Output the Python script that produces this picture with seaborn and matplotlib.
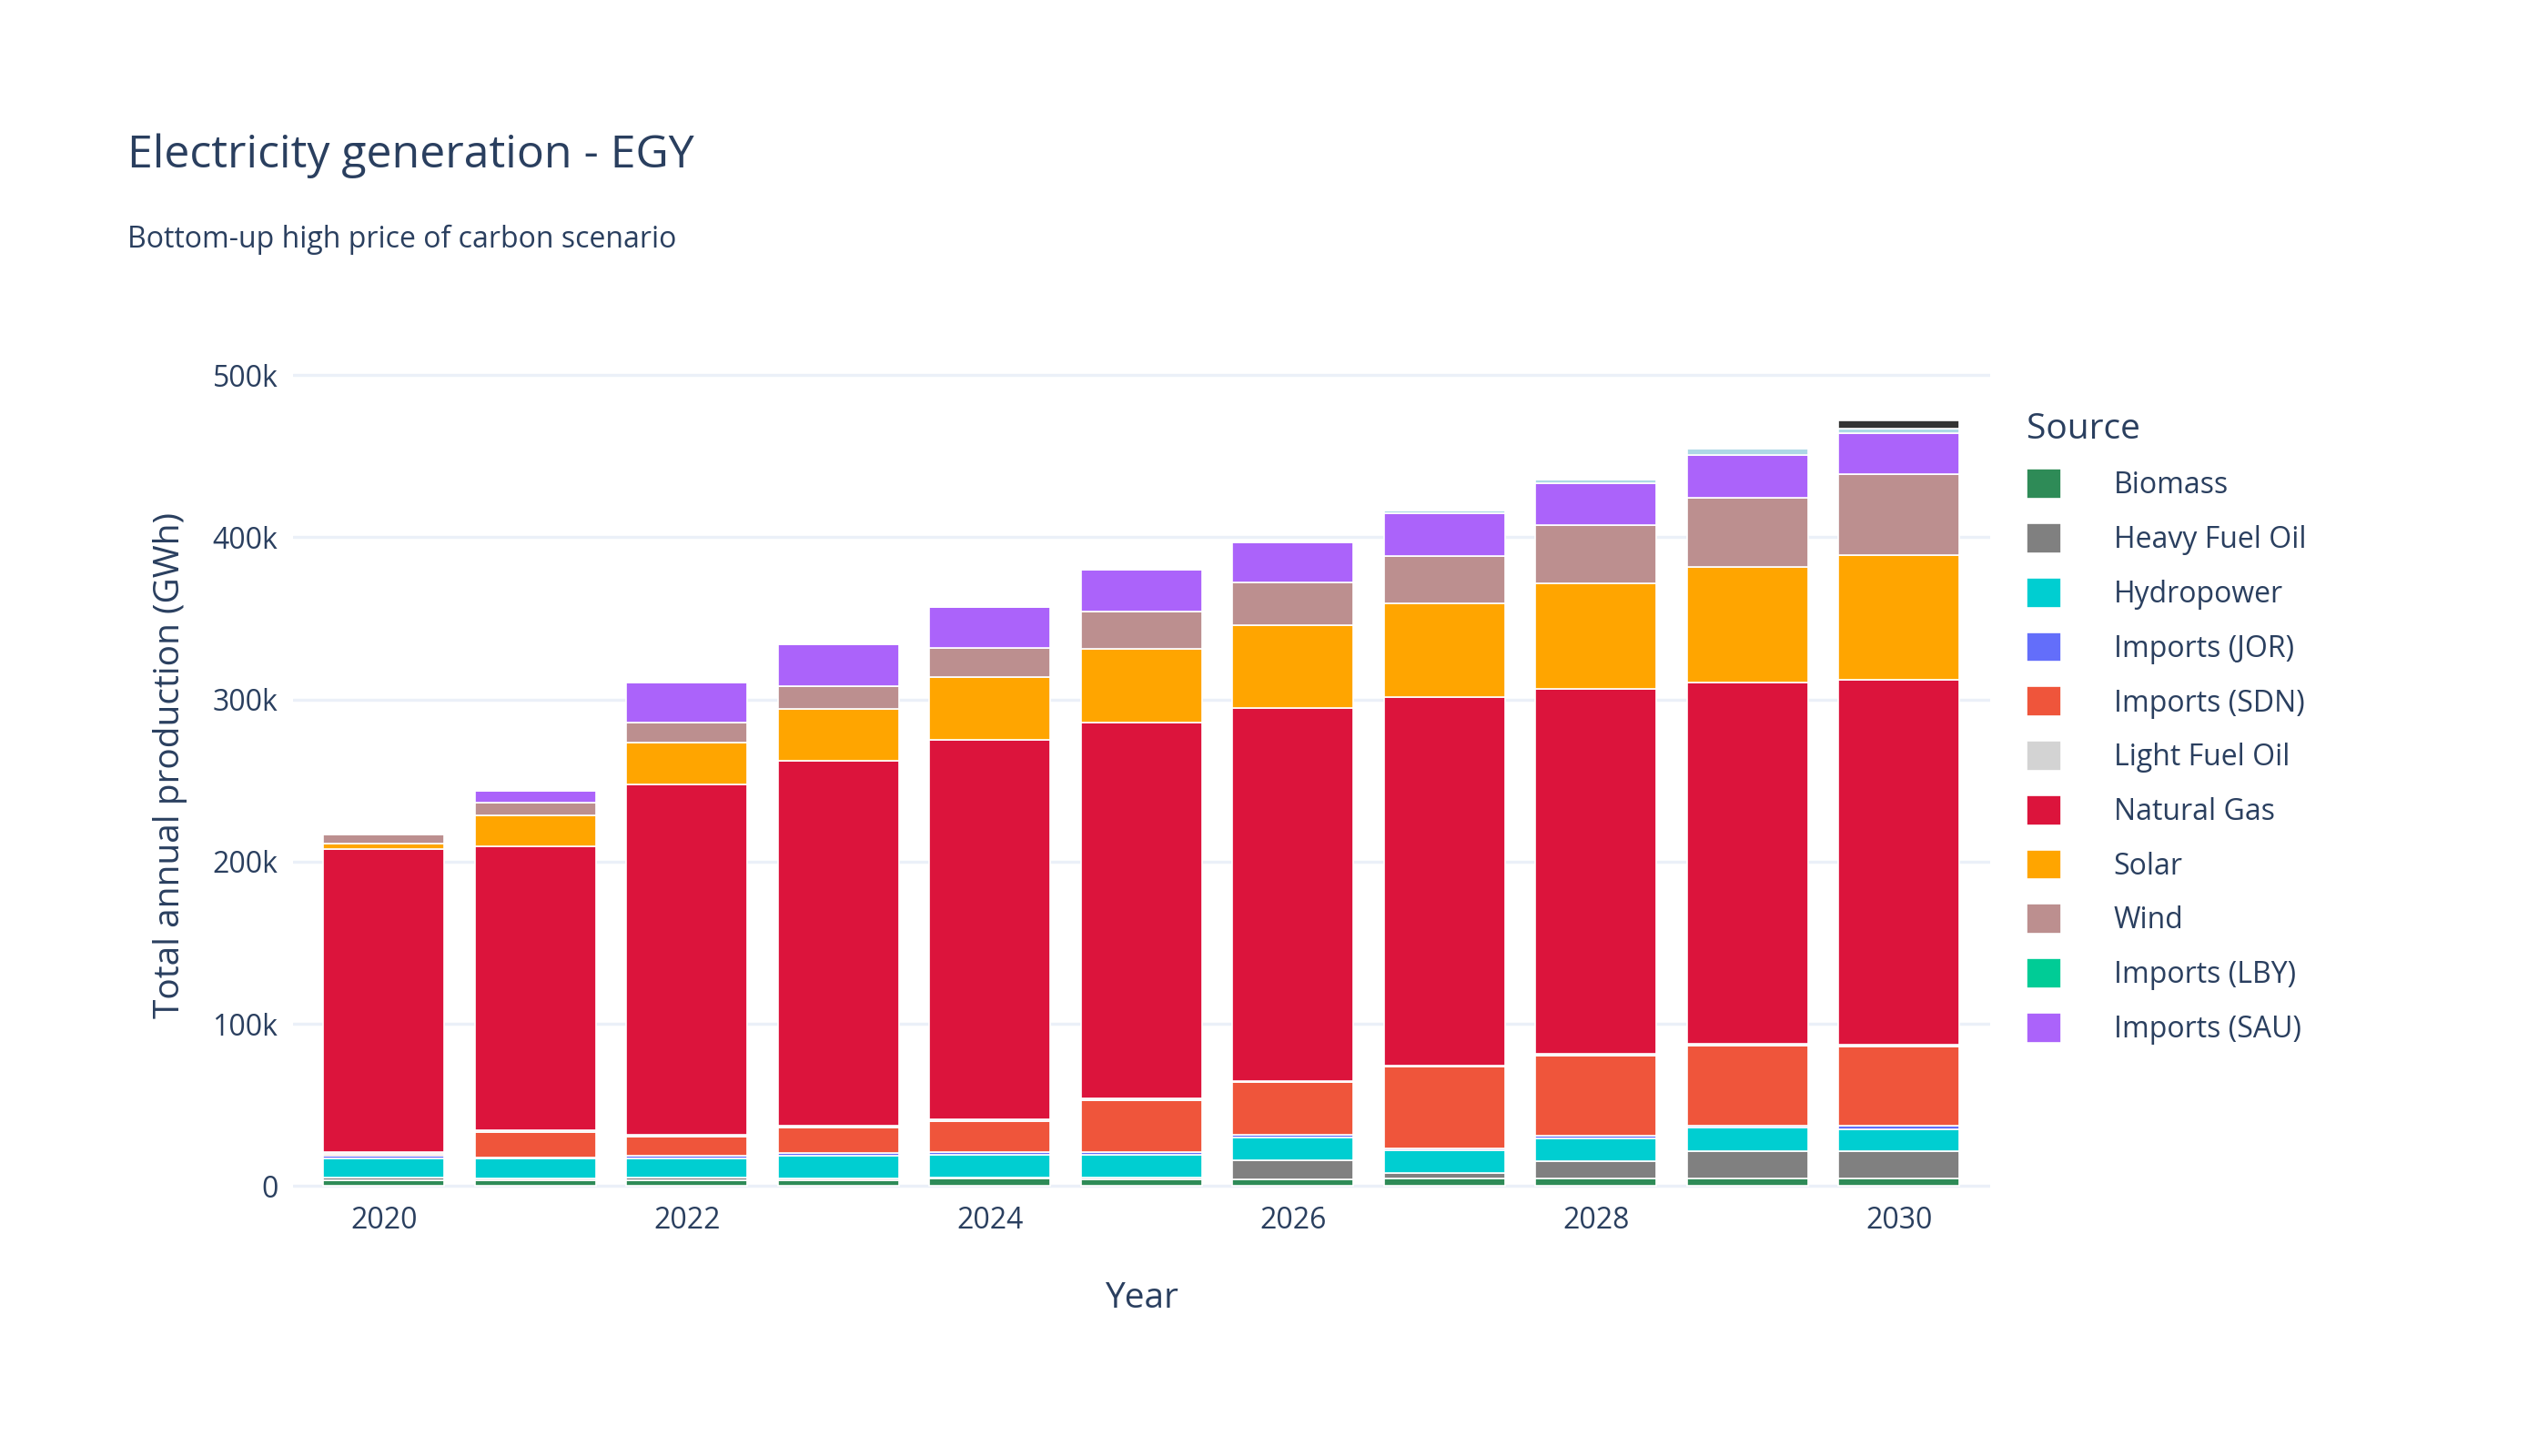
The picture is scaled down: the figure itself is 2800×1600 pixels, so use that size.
import matplotlib
matplotlib.use("Agg")
import matplotlib.pyplot as plt
import seaborn as sns
import numpy as np
from matplotlib.transforms import Bbox, TransformedBbox

years = [2020, 2021, 2022, 2023, 2024, 2025, 2026, 2027, 2028, 2029, 2030]
biomass = [3.5, 3.5, 3.5, 3.5, 4.5, 4, 4, 4.5, 4.5, 4.5, 4.5]
heavy_fuel_oil = [2, 1.5, 2, 1.5, 1, 1.5, 12, 3.5, 11, 17, 17]
hydropower = [11.5, 12, 11.5, 14, 14, 14, 14, 14, 14, 14.5, 13.5]
imports_jor = [1.5, 0.5, 1.5, 1.5, 1.5, 1.5, 1.5, 1.5, 1.5, 1.5, 2]
imports_sdn = [1.5, 16, 12, 15.5, 19, 32, 32.5, 50, 49.5, 49, 49]
light_fuel_oil = [1, 1, 1, 1, 1, 1, 1, 1, 1, 1, 1]
natural_gas = [187, 175, 216, 225, 234, 232, 230, 227, 225, 223, 225]
solar = [3, 19, 26, 32, 39, 45, 51, 58, 65, 71, 77]
wind = [6, 8, 12, 14, 18, 23, 26, 29, 36, 43, 50]
imports_lby = [0, 0, 0, 0, 0, 0, 0, 0, 0, 0, 0]
imports_sau = [0, 7, 25, 26, 25, 26, 25, 26, 26, 26, 25]
other_light = [0, 0, 0, 0, 0, 0, 0, 2, 2, 4, 3]
other_dark = [0, 0, 0, 0, 0, 0, 0, 0, 0, 0, 5]

sources = ["Biomass", "Heavy Fuel Oil", "Hydropower", "Imports (JOR)", "Imports (SDN)",
           "Light Fuel Oil", "Natural Gas", "Solar", "Wind", "Imports (LBY)", "Imports (SAU)",
           "_other1", "_other2"]
values = [biomass, heavy_fuel_oil, hydropower, imports_jor, imports_sdn, light_fuel_oil,
          natural_gas, solar, wind, imports_lby, imports_sau, other_light, other_dark]
colors = ["#2E8B57", "#808080", "#00CED1", "#636EFA", "#EF553B", "#D3D3D3", "#DC143C",
          "#FFA500", "#BC8F8F", "#00CC96", "#AB63FA", "#ADD8E6", "#333333"]

sns.set_theme(style="white")
plt.rcParams['font.family'] = ['Open Sans', 'DejaVu Sans']
txt = "#2A3F5F"

fig = plt.figure(figsize=(14, 8), dpi=200)
ax = fig.add_axes([0.115, 0.182, 0.666, 0.585])
bottom = np.zeros(len(years))
for name, vals, c in zip(sources, values, colors):
    v = np.array(vals) * 1000
    ax.bar(years, v, bottom=bottom, width=0.8, color=c, edgecolor="white", linewidth=0.6,
           label=name)
    bottom += v

ax.set_ylim(-3000, 522000)
ax.set_xlim(2019.4, 2030.6)
ax.set_xticks([2020, 2022, 2024, 2026, 2028, 2030])
ax.set_yticks([0, 100000, 200000, 300000, 400000, 500000])
ax.set_yticklabels(["0", "100k", "200k", "300k", "400k", "500k"])
ax.yaxis.grid(True, color="#EBF0F8", linewidth=1.2)
ax.set_axisbelow(True)
for s in ax.spines.values():
    s.set_visible(False)
ax.tick_params(axis="both", labelsize=11.5, colors=txt, length=0, pad=6)
ax.set_xlabel("Year", fontsize=14, color=txt, labelpad=18)
ax.set_ylabel("Total annual production (GWh)", fontsize=14, color=txt, labelpad=10)

fig.text(0.05, 0.885, "Electricity generation - EGY", fontsize=18, color=txt)
fig.text(0.05, 0.83, "Bottom-up high price of carbon scenario", fontsize=11.5, color=txt)

handles, labels = ax.get_legend_handles_labels()
leg = fig.legend(handles[:11], labels[:11], loc="upper left", bbox_to_anchor=(0.785, 0.735),
                 frameon=False, fontsize=11.5, title="Source", title_fontsize=14,
                 handlelength=1.2, handleheight=1.2, handletextpad=1.8, labelspacing=0.77,
                 alignment="left")
for t in leg.get_texts():
    t.set_color(txt)
leg.get_title().set_color(txt)
clip = TransformedBbox(Bbox([[0, 0.183], [1, 1]]), fig.transFigure)
for a in leg.findobj():
    a.set_clip_box(clip)
    a.set_clip_on(True)

fig.savefig("out.png", dpi=200, facecolor="white")
